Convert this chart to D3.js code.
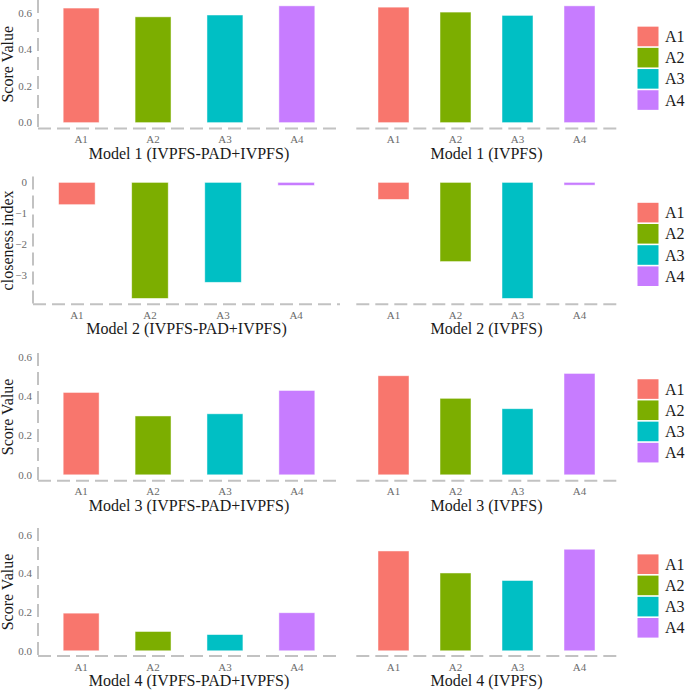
<!DOCTYPE html>
<html>
<head>
<meta charset="utf-8">
<script src="https://cdn.jsdelivr.net/npm/d3@7"></script>
<style>
  body { margin: 0; background: #fff; }
</style>
</head>
<body>
<div id="chart"></div>
<script>
var alternatives = ["A1", "A2", "A3", "A4"];
var palette = ["#F8766D", "#7CAE00", "#00BFC4", "#C77CFF"];

// scores
var model1Hybrid = [0.626, 0.578, 0.588, 0.638];
var model1Ivpfs  = [0.631, 0.604, 0.586, 0.638];
var model2Hybrid = [-0.72, -3.75, -3.23, -0.10];
var model2Ivpfs  = [-0.55, -2.56, -3.75, -0.09];
var model3Hybrid = [0.420, 0.300, 0.311, 0.430];
var model3Ivpfs  = [0.505, 0.390, 0.337, 0.517];
var model4Hybrid = [0.195, 0.100, 0.084, 0.197];
var model4Ivpfs  = [0.517, 0.403, 0.364, 0.526];

var scoreTicks = [0, 0.2, 0.4, 0.6];
var closenessTicks = [0, -1, -2, -3];

var rows = [
  { left: model1Hybrid, right: model1Ivpfs, titles: ["Model 1 (IVPFS-PAD+IVPFS)", "Model 1 (IVPFS)"],
    ylab: "Score Value", ticks: scoreTicks, fmt: d3.format(".1f"), domain: [-0.032, 0.67],
    top: 0, bottom: 128.5, x0: 38 },
  { left: model2Hybrid, right: model2Ivpfs, titles: ["Model 2 (IVPFS-PAD+IVPFS)", "Model 2 (IVPFS)"],
    ylab: "closeness index", ticks: closenessTicks, fmt: d3.format("d"), domain: [-3.94, 0.19],
    top: 176.5, bottom: 304.3, x0: 33 },
  { left: model3Hybrid, right: model3Ivpfs, titles: ["Model 3 (IVPFS-PAD+IVPFS)", "Model 3 (IVPFS)"],
    ylab: "Score Value", ticks: scoreTicks, fmt: d3.format(".1f"), domain: [-0.03, 0.621],
    top: 353, bottom: 480.7, x0: 38 },
  { left: model4Hybrid, right: model4Ivpfs, titles: ["Model 4 (IVPFS-PAD+IVPFS)", "Model 4 (IVPFS)"],
    ylab: "Score Value", ticks: scoreTicks, fmt: d3.format(".1f"), domain: [-0.027, 0.636],
    top: 528, bottom: 656, x0: 38 }
];

var width = 685, height = 691;
var svg = d3.select("#chart").append("svg")
  .attr("width", width).attr("height", height)
  .style("font-family", "'Liberation Serif', 'Times New Roman', serif");

var axisColor = "#c2c2c2";

function drawPanel(parent, values, x0, x1, y, title, row) {
  var g = parent.append("g");
  // discrete axis, ggplot style: 0.6 of a step added each side
  var x = d3.scaleBand().domain(alternatives)
    .range([x0, x1]).paddingInner(0).paddingOuter(0.1);
  var bw = x.step() * 0.5;

  g.selectAll("rect").data(values).enter().append("rect")
    .attr("x", function(d, i) { return x(alternatives[i]) + x.bandwidth() / 2 - bw / 2; })
    .attr("width", bw)
    .attr("y", function(d) { return y(Math.max(0, d)); })
    .attr("height", function(d) { return Math.abs(y(d) - y(0)); })
    .style("fill", function(d, i) { return palette[i]; })
    .style("stroke", "#fff")
    .style("stroke-opacity", 0.6)
    .style("stroke-width", 0.8);

  g.append("line")
    .attr("x1", x0).attr("x2", x1)
    .attr("y1", row.bottom).attr("y2", row.bottom)
    .style("stroke", axisColor).style("stroke-width", 2)
    .style("stroke-dasharray", "13,6");

  g.selectAll("text.xtick").data(alternatives).enter().append("text")
    .attr("class", "xtick")
    .attr("x", function(d) { return x(d) + x.bandwidth() / 2; })
    .attr("y", row.bottom + 14.5)
    .attr("text-anchor", "middle")
    .style("font-size", "11px")
    .style("fill", "#6b6b6b")
    .text(function(d) { return d; });

  g.append("text")
    .attr("x", (x0 + x1) / 2)
    .attr("y", row.bottom + 30)
    .attr("text-anchor", "middle")
    .style("font-size", "16px")
    .style("fill", "#1a1a1a")
    .text(title);
}

rows.forEach(function(row) {
  var g = svg.append("g");
  var y = d3.scaleLinear().domain(row.domain).range([row.bottom, row.top]);

  drawPanel(g, row.left, row.x0, 340, y, row.titles[0], row);
  drawPanel(g, row.right, 356.3, 616.7, y, row.titles[1], row);

  // left y axis
  g.append("line")
    .attr("x1", row.x0).attr("x2", row.x0)
    .attr("y1", row.top).attr("y2", row.bottom)
    .style("stroke", axisColor).style("stroke-width", 2)
    .style("stroke-dasharray", "13,6");

  g.selectAll("text.ytick").data(row.ticks).enter().append("text")
    .attr("class", "ytick")
    .attr("x", row.x0 - 6)
    .attr("y", function(d) { return y(d) + 3.8; })
    .attr("text-anchor", "end")
    .style("font-size", "11px")
    .style("fill", "#6b6b6b")
    .text(row.fmt);

  var mid = (row.top + row.bottom) / 2;
  g.append("text")
    .attr("transform", "translate(13," + mid + ") rotate(-90)")
    .attr("text-anchor", "middle")
    .style("font-size", "16px")
    .style("fill", "#1a1a1a")
    .text(row.ylab);

  // legend
  var keyH = 21.2;
  var legTop = mid + 4 - 2 * keyH;
  var leg = g.append("g");
  leg.selectAll("rect").data(alternatives).enter().append("rect")
    .attr("x", 637.5)
    .attr("y", function(d, i) { return legTop + i * keyH + 0.8; })
    .attr("width", 21)
    .attr("height", keyH - 1.6)
    .style("fill", function(d, i) { return palette[i]; });
  leg.selectAll("text").data(alternatives).enter().append("text")
    .attr("x", 665)
    .attr("y", function(d, i) { return legTop + i * keyH + keyH / 2 + 5.5; })
    .style("font-size", "16px")
    .style("fill", "#1a1a1a")
    .text(function(d) { return d; });
});
</script>
</body>
</html>
